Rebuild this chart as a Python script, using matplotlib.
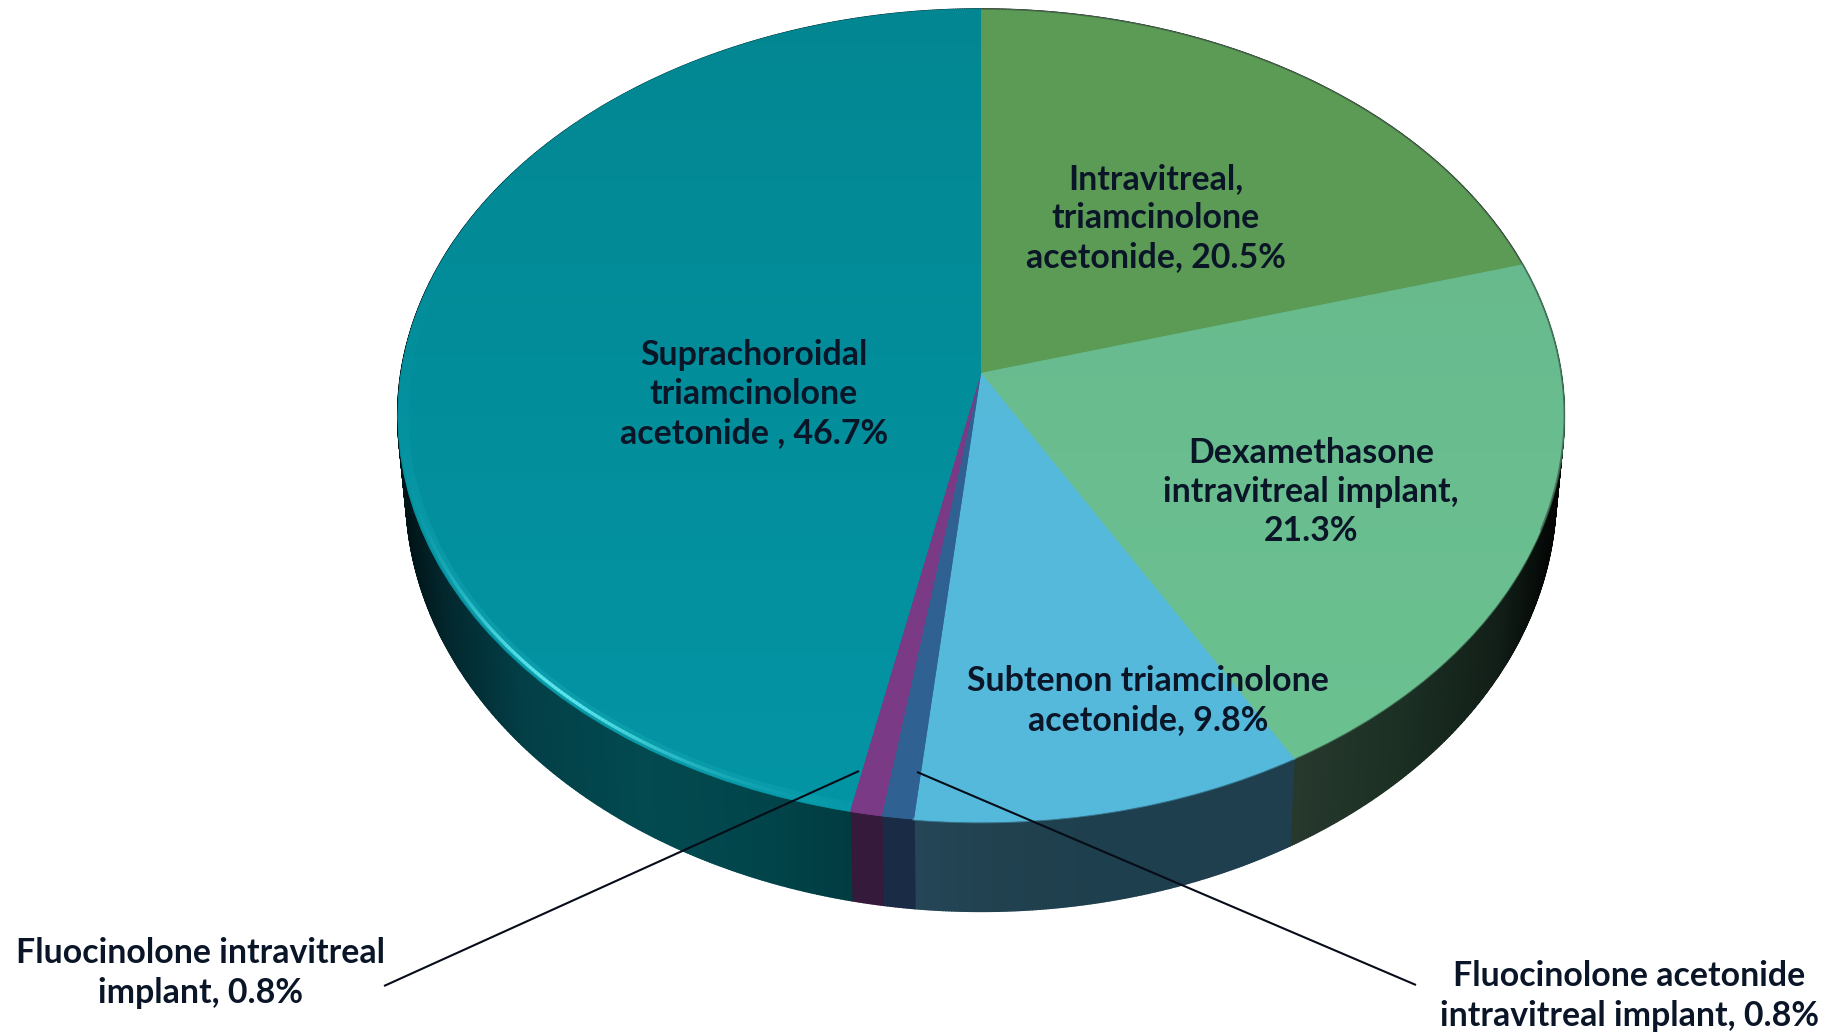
import numpy as np
import matplotlib
matplotlib.use("Agg")
import matplotlib.pyplot as plt
from matplotlib.collections import LineCollection, PolyCollection
from matplotlib.colors import to_rgb
from matplotlib.transforms import Transform

# Treatment shares, clockwise from twelve o'clock
treatments = [
    "Intravitreal,\ntriamcinolone\nacetonide, ",
    "Dexamethasone\nintravitreal implant,\n",
    "Subtenon triamcinolone\nacetonide, ",
    "Fluocinolone acetonide\nintravitreal implant, ",
    "Fluocinolone intravitreal\nimplant, ",
    "Suprachoroidal\ntriamcinolone\nacetonide , ",
]
shares = [20.5, 21.3, 9.8, 0.8, 0.8, 46.7]

top_colors = ["#5b9b56", "#66b78c", "#55b9da", "#2f6192", "#7b3a85", "#028792"]
bottom_colors = ["#5d9d57", "#6cc291", "#55b9dc", "#2f6192", "#7b3a85", "#0495a5"]
wall_stops = [
    [(1300, "#1c3024"), (1560, "#1c3024")],
    [(1290, "#28392e"), (1400, "#1c3024"), (1500, "#121f18"), (1552, "#040705")],
    [(916, "#244656"), (1000, "#21414f"), (1100, "#1e3f4d"), (1290, "#1f3f4f")],
    [(0, "#1a2c45"), (1828, "#1a2c45")],
    [(0, "#351a3b"), (1828, "#351a3b")],
    [(404, "#011518"), (440, "#02272d"), (520, "#033f47"), (640, "#024a50"),
     (760, "#01454a"), (855, "#013b40")],
]
label_centers = [(1156, 218), (1311, 492), (1148, 701), (1629, 996), (201, 973), (754, 394)]
leaders = [((917, 772), (1416, 985)), ((859, 771), (384, 986))]

INK = "#0a1628"
TILT = 0.1045


class DiscProjection(Transform):
    """Central projection of the unit disc onto a pixel-space ellipse."""
    input_dims = output_dims = 2

    def __init__(self, cx, cy, sx, sy, k):
        super().__init__()
        self.cx, self.cy, self.sx, self.sy, self.k = cx, cy, sx, sy, k

    def transform_non_affine(self, values):
        pts = np.asarray(values, dtype=float)
        w = 1 + self.k * pts[:, 1]
        return np.column_stack((self.cx + self.sx * pts[:, 0] / w,
                                self.cy - self.sy * pts[:, 1] / w))


top_face = DiscProjection(981, 373, 580, 402, TILT)
base_rim = DiscProjection(981, 449, 572, 414, TILT)


def unit(theta_cw, r=1.0):
    a = np.radians(theta_cw)
    return np.column_stack((r * np.sin(a), r * np.cos(a)))


fig = plt.figure(figsize=(18.28, 10.34), dpi=100, facecolor="white")
ax = fig.add_axes([0, 0, 1, 1])

fractions = np.array(shares) / sum(shares)
edges = np.concatenate(([0], np.cumsum(fractions))) * 360

# Side wall: narrow quads between the top rim and the base rim
for start, stop, stops in zip(edges[:-1], edges[1:], wall_stops):
    th = np.arange(start, stop + 0.25, 0.25)
    th[-1] = stop
    upper = top_face.transform_non_affine(unit(th))
    lower = base_rim.transform_non_affine(unit(th))
    quads = [np.array([upper[i], upper[i + 1], lower[i + 1], lower[i]])
             for i in range(len(th) - 1)]
    xs = 0.5 * (upper[:-1, 0] + upper[1:, 0])
    sx, sc = zip(*stops)
    rgb = np.array([to_rgb(c) for c in sc])
    shade = np.column_stack([np.interp(xs, sx, rgb[:, j]) for j in range(3)])
    ax.add_collection(PolyCollection(quads, facecolors=shade, edgecolors=shade,
                                     linewidths=1.2, zorder=1))

# Top face
wedges, _ = ax.pie(shares, startangle=90, counterclock=False, radius=1,
                   colors=top_colors, wedgeprops=dict(linewidth=0))
for w, c0, c1 in zip(wedges, top_colors, bottom_colors):
    w.set_transform(top_face + ax.transData)
    w.set_zorder(2)
    w.set_edgecolor(c0)
    w.set_linewidth(0.5)
    ramp = np.linspace(to_rgb(c0), to_rgb(c1), 256)[:, None, :]
    im = ax.imshow(ramp, extent=(380, 1580, 830, 0), aspect="auto", zorder=3,
                   interpolation="bilinear")
    im.set_clip_path(w)

ax.set_aspect("auto")
ax.set_xlim(0, 1828)
ax.set_ylim(1034, 0)
ax.set_axis_off()

# Bevel along the rim of the largest slice, brightest at lower left
th = np.arange(edges[-2], 360, 0.4)
for radius, lw, colour, peak, spread in [
    (0.990, 7.0, "#12a7b6", 0.55, 38),
    (0.992, 2.4, "#66f0f5", 0.90, 15),
]:
    pts = top_face.transform_non_affine(unit(th, radius))
    segs = np.stack((pts[:-1], pts[1:]), axis=1)
    strength = peak * np.exp(-((th[:-1] - 223) / spread) ** 2)
    rgba = np.tile(to_rgb(colour) + (0.0,), (len(segs), 1))
    rgba[:, 3] = np.clip(strength, 0, 1)
    ax.add_collection(LineCollection(segs, colors=rgba, linewidths=lw, capstyle="butt", zorder=4))

# Soft edges: face colours bleeding over the wall, thin grey line along the back
for start, stop, c in zip(edges[1:3], edges[2:4], bottom_colors[1:3]):
    pts = top_face.transform_non_affine(unit(np.linspace(start, stop, 120)))
    ax.plot(pts[:, 0], pts[:, 1], color=c, lw=2.0, alpha=0.45, zorder=4)
th = np.linspace(0, 112, 300)
pts = top_face.transform_non_affine(unit(th))
ax.plot(pts[:, 0], pts[:, 1], color="#3a4a40", lw=1.0, alpha=0.6, zorder=4)

for (x0, y0), (x1, y1) in leaders:
    ax.plot([x0, x1], [y0, y1], color="#060c18", lw=1.5, solid_capstyle="butt", zorder=5)

for name, value, (x, y) in zip(treatments, shares, label_centers):
    ax.text(x, y, f"{name}{value}%", ha="center", va="center", multialignment="center",
            family="Lato", weight="bold", fontsize=24.4, color=INK, linespacing=1.27, zorder=6)

fig.savefig("out.png", dpi=100, facecolor="white")
